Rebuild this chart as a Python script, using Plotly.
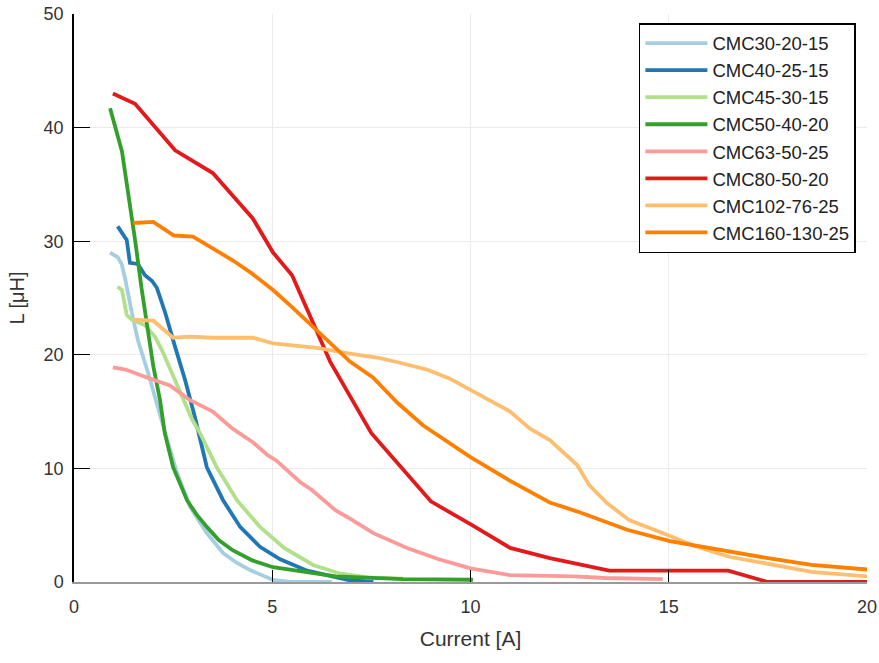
import plotly.graph_objects as go

names = ["CMC30-20-15", "CMC40-25-15", "CMC45-30-15", "CMC50-40-20",
         "CMC63-50-25", "CMC80-50-20", "CMC102-76-25", "CMC160-130-25"]
colors = ["#a6cee3", "#1f78b4", "#b2df8a", "#33a02c",
          "#fb9a99", "#e31a1c", "#fdbf6f", "#ff7f00"]

x_cmc30 = [0.91, 1.1, 1.2, 1.29, 1.46, 1.61, 1.87, 2.09, 2.35, 2.6, 2.93, 3.35, 3.76, 4.1, 4.44, 5.02, 5.45, 6.5]
y_cmc30 = [29.0, 28.6, 28.0, 26.7, 23.7, 21.3, 18.4, 15.6, 12.5, 9.6, 6.6, 4.3, 2.55, 1.7, 1.05, 0.18, 0.0, 0.0]

x_cmc40 = [1.1, 1.33, 1.41, 1.61, 1.79, 1.97, 2.09, 2.3, 2.55, 2.8, 3.05, 3.35, 3.76, 4.19, 4.69, 5.2, 5.88, 6.53, 6.9, 7.55]
y_cmc40 = [31.3, 30.1, 28.1, 28.0, 27.0, 26.5, 25.9, 23.7, 20.7, 17.8, 14.5, 10.1, 7.2, 4.85, 3.1, 2.0, 1.0, 0.45, 0.18, 0.0]

x_cmc45 = [1.1, 1.21, 1.33, 1.46, 1.79, 2.04, 2.22, 2.47, 2.72, 2.98, 3.18, 3.6, 4.11, 4.69, 5.3, 6.03, 6.7, 7.4, 8.3]
y_cmc45 = [26.0, 25.7, 23.5, 23.1, 22.6, 21.6, 20.4, 18.4, 16.3, 14.3, 13.1, 10.1, 7.2, 4.85, 3.0, 1.5, 0.75, 0.4, 0.3]

x_cmc50 = [0.91, 1.21, 1.54, 1.71, 2.0, 2.17, 2.29, 2.5, 2.85, 3.1, 3.35, 3.65, 4.0, 4.5, 5.02, 5.88, 6.6, 8.3, 10.06]
y_cmc50 = [41.7, 37.9, 30.1, 25.7, 19.0, 16.0, 13.1, 10.1, 7.2, 5.9, 4.85, 3.7, 2.8, 1.9, 1.3, 0.9, 0.5, 0.25, 0.2]

x_cmc63 = [0.98, 1.3, 1.84, 2.42, 2.93, 3.5, 4.0, 4.51, 4.87, 5.1, 5.7, 6.0, 6.6, 6.9, 7.55, 8.4, 9.2, 10.0, 11.0, 12.6, 13.4, 14.85]
y_cmc63 = [18.9, 18.7, 18.0, 17.3, 16.0, 15.0, 13.5, 12.3, 11.2, 10.7, 8.8, 8.1, 6.3, 5.7, 4.3, 3.0, 2.0, 1.2, 0.6, 0.5, 0.35, 0.25]

x_cmc80 = [0.98, 1.54, 2.55, 3.5, 4.51, 5.02, 5.5, 6.46, 7.5, 9.0, 10.04, 11.0, 12.0, 13.5, 16.5, 17.5, 20.0]
y_cmc80 = [43.0, 42.1, 38.0, 36.0, 32.0, 29.0, 27.0, 19.4, 13.1, 7.1, 5.0, 3.0, 2.1, 1.0, 1.0, 0.0, 0.0]

x_cmc102 = [1.49, 2.0, 2.5, 2.93, 3.5, 4.51, 5.02, 5.7, 6.13, 6.96, 7.72, 8.22, 8.9, 9.48, 10.0, 11.0, 11.5, 12.0, 12.69, 13.0, 13.44, 14.0, 14.86, 15.7, 16.55, 17.4, 18.6, 20.0]
y_cmc102 = [23.1, 23.0, 21.5, 21.6, 21.5, 21.5, 21.0, 20.8, 20.6, 20.1, 19.7, 19.3, 18.7, 17.9, 16.9, 15.0, 13.5, 12.5, 10.3, 8.5, 6.95, 5.45, 4.3, 3.1, 2.2, 1.65, 0.9, 0.5]

x_cmc160 = [1.49, 2.0, 2.52, 3.0, 3.53, 4.01, 4.51, 5.02, 5.5, 6.1, 6.96, 7.54, 8.15, 8.8, 9.48, 10.0, 11.0, 12.0, 12.7, 13.95, 15.03, 16.3, 17.5, 18.6, 20.0]
y_cmc160 = [31.6, 31.7, 30.5, 30.4, 29.3, 28.3, 27.1, 25.7, 24.2, 22.2, 19.4, 18.0, 15.8, 13.8, 12.2, 11.0, 8.9, 7.0, 6.2, 4.6, 3.6, 2.8, 2.1, 1.5, 1.1]

xs = [x_cmc30, x_cmc40, x_cmc45, x_cmc50, x_cmc63, x_cmc80, x_cmc102, x_cmc160]
ys = [y_cmc30, y_cmc40, y_cmc45, y_cmc50, y_cmc63, y_cmc80, y_cmc102, y_cmc160]

x_ticks = [0, 5, 10, 15, 20]
y_ticks = [0, 10, 20, 30, 40, 50]

fig = go.Figure()
for n, c, x, y in zip(names, colors, xs, ys):
    fig.add_trace(go.Scatter(x=x, y=y, name=n, mode="lines",
                             line=dict(color=c, width=3.8)))

font_family = "Liberation Sans, Arial, sans-serif"
fig.update_layout(
    width=879, height=663,
    margin=dict(l=74, r=12, t=14, b=81),
    paper_bgcolor="white", plot_bgcolor="white",
    font=dict(family=font_family, color="#333", size=18),
    showlegend=True,
    legend=dict(x=0.986, y=0.984, xanchor="right", yanchor="top",
                bgcolor="white", bordercolor="black", borderwidth=1.5,
                itemwidth=62,
                font=dict(size=18.5, color="#222")),
    xaxis=dict(range=[0, 20], tickvals=x_ticks, ticks="inside", ticklen=12,
               tickcolor="black", showgrid=True, gridcolor="#ebebeb",
               showline=True, linecolor="#9a9a9a", linewidth=2, zeroline=False,
               automargin=False, ticklabeloverflow="allow", ticklabelstandoff=7,
               title=dict(text="Current [A]", font=dict(size=21), standoff=16),
               tickfont=dict(size=18)),
    yaxis=dict(range=[0, 50], tickvals=y_ticks, ticks="inside", ticklen=16,
               tickcolor="black", showgrid=True, gridcolor="#ebebeb",
               showline=True, linecolor="black", linewidth=1.5, zeroline=False,
               automargin=False, ticklabeloverflow="allow", ticklabelstandoff=5,
               title=dict(text="L [μH]", font=dict(size=20), standoff=14),
               tickfont=dict(size=18)),
)

fig.write_html("out.html", config={"displayModeBar": False},
               post_script="document.body.style.margin='0';document.body.style.overflow='hidden';")
